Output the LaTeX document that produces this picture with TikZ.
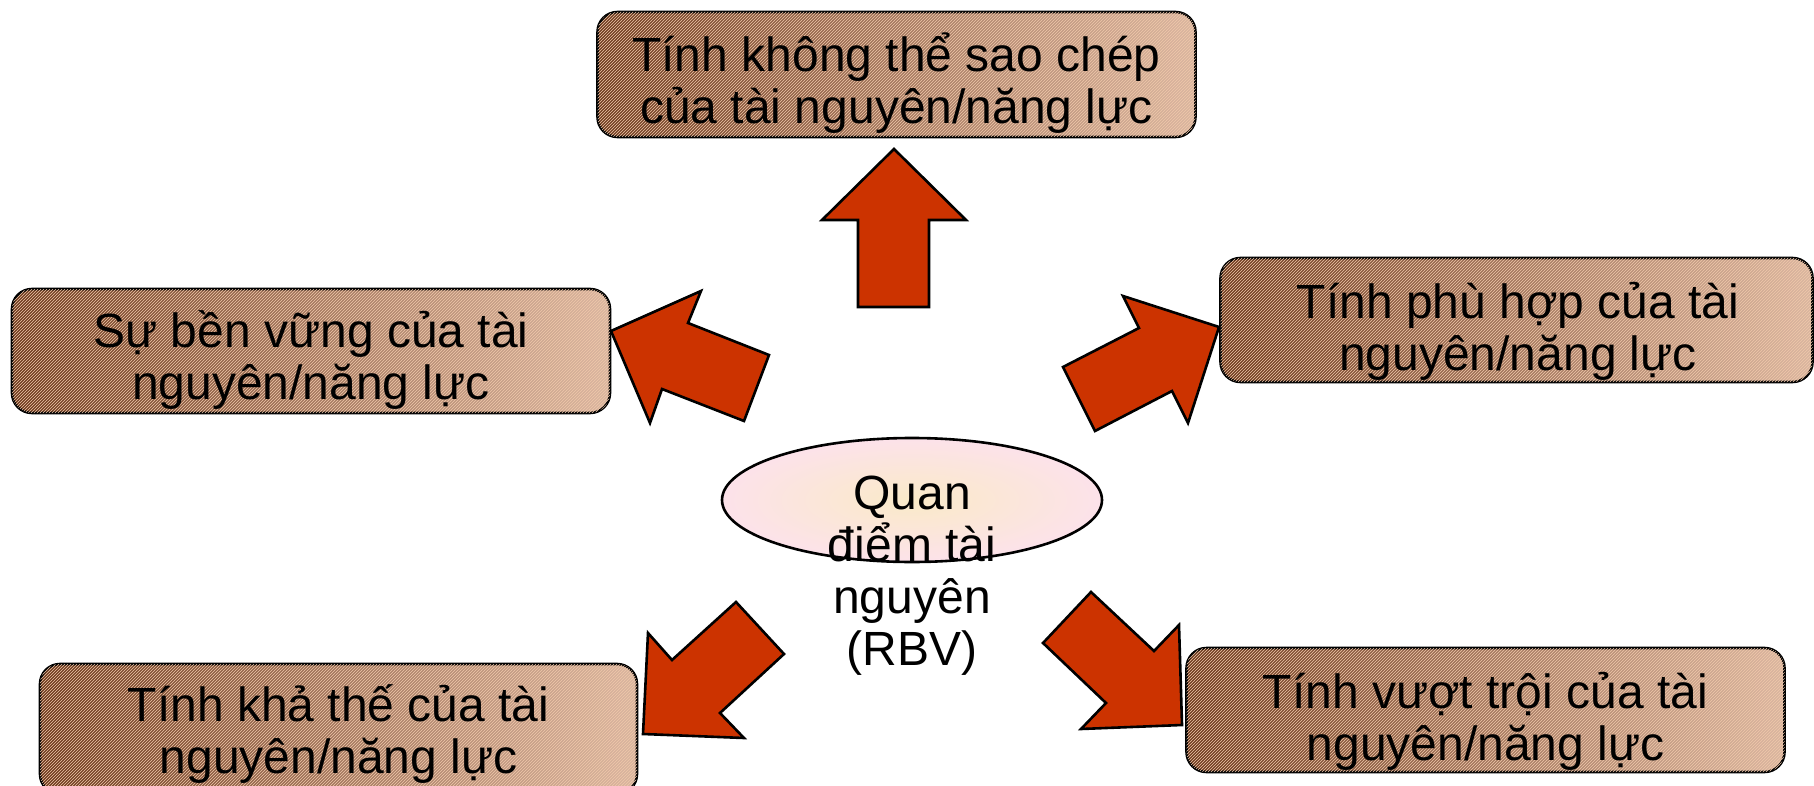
\documentclass[tikz,border=0pt]{standalone}
\usepackage{fontspec}
\setmainfont{Liberation Sans}
\usetikzlibrary{patterns,shapes.geometric}
\definecolor{brownL}{RGB}{110,58,30}
\definecolor{brownR}{RGB}{218,182,160}
\definecolor{hatch}{RGB}{240,200,170}
\definecolor{arrowred}{RGB}{204,51,0}
\definecolor{ellout}{RGB}{252,226,234}
\definecolor{ellin}{RGB}{250,234,200}
\tikzset{
  box/.style={draw=black, line width=2.6pt, rounded corners=20pt,
    left color=brownL, right color=brownR, shading angle=90,
    postaction={pattern=north east lines, pattern color=hatch, fill opacity=0.2}},
  blockarrow/.style={draw=black, line width=2.6pt, fill=arrowred, line join=miter},
  centre/.style={draw=black, line width=2.6pt, ellipse, inner color=ellin, outer color=ellout},
  lbl/.style={align=center, font=\fontsize{48}{52}\selectfont, text=black, inner sep=0pt}
}
\begin{document}
\begin{tikzpicture}[x=1pt,y=-1pt]
\useasboundingbox (0,0) rectangle (1814,786);
% boxes
\node[box, minimum width=598pt, minimum height=125pt] (top) at (896.5,74.5) {};
\node[lbl] (toptext) at (896.5,83.5) {Tính không thể sao chép\\của tài nguyên/năng lực};
\node[box, minimum width=598pt, minimum height=124pt] (left) at (311,351) {};
\node[lbl] (lefttext) at (311,360) {Sự bền vững của tài\\nguyên/năng lực};
\node[box, minimum width=592pt, minimum height=124pt] (right) at (1516.5,320) {};
\node[lbl] (righttext) at (1518,331) {Tính phù hợp của tài\\nguyên/năng lực};
\node[box, minimum width=597pt, minimum height=130pt] (botleft) at (338.5,729) {};
\node[lbl] (botlefttext) at (338.5,734) {Tính khả thế của tài\\nguyên/năng lực};
\node[box, minimum width=598pt, minimum height=124pt] (botright) at (1485.5,710) {};
\node[lbl] (botrighttext) at (1485.5,721) {Tính vượt trội của tài\\nguyên/năng lực};
% centre ellipse
\node[centre, minimum width=380pt, minimum height=124pt] (centre) at (912,500) {};
\node[lbl] (centretext) at (912,576) {Quan\\điểm tài\\nguyên\\(RBV)};
% block arrows
\draw[blockarrow] (894,149) -- (966,220) -- (929,220) -- (929,307) -- (858,307) -- (858,220) -- (822,220) -- cycle;
\draw[blockarrow] (611,331) -- (701,291) -- (688,323) -- (769,355) -- (744,421) -- (662,389) -- (650,423) -- cycle;
\draw[blockarrow] (1219,327) -- (1188,423) -- (1172,391) -- (1095,431) -- (1063,367) -- (1139,328) -- (1123,296) -- cycle;
\draw[blockarrow] (643,734) -- (648,633) -- (672,660) -- (736,602) -- (784,654) -- (720,713) -- (744,738) -- cycle;
\draw[blockarrow] (1182,725) -- (1081,729) -- (1106,703) -- (1043,643) -- (1091,592) -- (1154,651) -- (1179,625) -- cycle;
\end{tikzpicture}
\end{document}
